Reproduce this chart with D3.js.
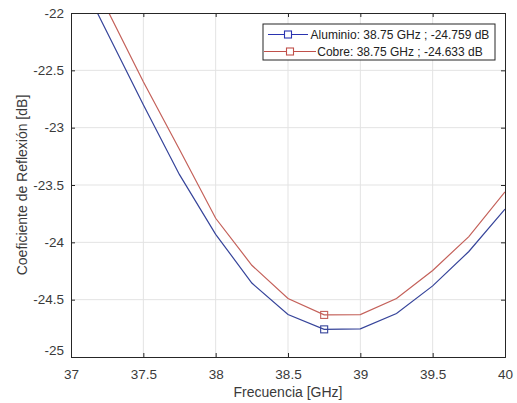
<!DOCTYPE html>
<html>
<head>
<meta charset="utf-8">
<script src="https://cdn.jsdelivr.net/npm/d3@7"></script>
<style>
  body { margin: 0; background: #fff; }
  svg { display: block; font-family: "Liberation Sans", Arial, sans-serif; }
</style>
</head>
<body>
<div id="chart"></div>
<script>
// frequency samples (GHz)
const freq = [37, 37.25, 37.5, 37.75, 38, 38.25, 38.5, 38.75, 39, 39.25, 39.5, 39.75, 40];
// reflection coefficient (dB)
const aluminio = [-21.54, -22.17, -22.80, -23.41, -23.93, -24.355, -24.63, -24.759, -24.755, -24.62, -24.38, -24.08, -23.71];
const cobre = [-21.37, -21.97, -22.60, -23.19, -23.79, -24.20, -24.49, -24.633, -24.63, -24.49, -24.245, -23.95, -23.56];
const xTicks = [37, 37.5, 38, 38.5, 39, 39.5, 40];
const yTicks = [-25, -24.5, -24, -23.5, -23, -22.5, -22];
const markerFreq = 38.75;
const legendLabels = ["Aluminio: 38.75 GHz ; -24.759 dB", "Cobre: 38.75 GHz ; -24.633 dB"];

const W = 517, H = 403;
const margin = {top: 13, right: 12, bottom: 46, left: 71};
const iw = W - margin.left - margin.right;
const ih = H - margin.top - margin.bottom;

const svg = d3.select("#chart").append("svg").attr("width", W).attr("height", H);
const g = svg.append("g").attr("transform", `translate(${margin.left},${margin.top})`);

const x = d3.scaleLinear().domain([37, 40]).range([0, iw]);
const y = d3.scaleLinear().domain([-25, -22]).range([ih, 0]);

//plain hyphen like matlab, not the unicode minus
const fmt = d => String(d);

//grid
g.append("g").selectAll("line").data(xTicks.slice(1, -1)).join("line")
    .attr("x1", d => x(d)).attr("x2", d => x(d)).attr("y1", 0).attr("y2", ih)
    .attr("stroke", "#e3e3e3").attr("stroke-width", 1);
g.append("g").selectAll("line").data(yTicks.slice(1, -1)).join("line")
    .attr("y1", d => y(d)).attr("y2", d => y(d)).attr("x1", 0).attr("x2", iw)
    .attr("stroke", "#e3e3e3").attr("stroke-width", 1);

//clip for the curves
svg.append("defs").append("clipPath").attr("id", "clip")
    .append("rect").attr("width", iw).attr("height", ih);

const line = d3.line().x((d, i) => x(freq[i])).y(d => y(d));
const series = [
    {vals: aluminio, color: "#36449a", legColor: "#2a33b0"},
    {vals: cobre, color: "#c4615a", legColor: "#c0504a"}
];

const plot = g.append("g").attr("clip-path", "url(#clip)");
series.forEach(s => {
    plot.append("path").datum(s.vals).attr("d", line)
        .attr("fill", "none").attr("stroke", s.color).attr("stroke-width", 1.2);
    let k = freq.indexOf(markerFreq);
    g.append("rect")
        .attr("x", x(markerFreq) - 3.5).attr("y", y(s.vals[k]) - 3.5)
        .attr("width", 7).attr("height", 7)
        .attr("fill", "none").attr("stroke", s.color).attr("stroke-width", 1.1);
});

//axes (box with inward ticks)
const axColor = "#262626";
const xAxis = d3.axisBottom(x).tickValues(xTicks).tickSize(-4).tickPadding(10).tickFormat(fmt);
const yAxis = d3.axisLeft(y).tickValues(yTicks).tickSize(-4).tickPadding(7).tickFormat(fmt);

let ax = g.append("g").attr("transform", `translate(0,${ih})`).call(xAxis);
let ay = g.append("g").call(yAxis);
g.append("g").call(d3.axisTop(x).tickValues(xTicks).tickSize(-4).tickFormat(""));
g.append("g").attr("transform", `translate(${iw},0)`).call(d3.axisRight(y).tickValues(yTicks).tickSize(-4).tickFormat(""));

g.selectAll(".domain").attr("stroke", axColor);
g.selectAll(".tick line").attr("stroke", axColor);
[ax, ay].forEach(a => a.selectAll("text").attr("fill", "#3a3a3a").style("font-size", "13.5px"));
ax.selectAll("text").attr("dy", "0.9em");
//the -25 label sits a bit higher so it does not hit the 37 label
ay.selectAll(".tick").filter(d => d === -25).select("text").attr("dy", "-0.2em");

//axis titles
svg.append("text").attr("x", margin.left + iw / 2).attr("y", 397)
    .attr("text-anchor", "middle").attr("fill", "#3a3a3a").style("font-size", "14px")
    .text("Frecuencia [GHz]");
svg.append("text").attr("transform", `translate(27,${margin.top + ih / 2}) rotate(-90)`)
    .attr("text-anchor", "middle").attr("fill", "#3a3a3a").style("font-size", "14px")
    .text("Coeficiente de Reflexión [dB]");

//legend
const leg = svg.append("g");
leg.append("rect").attr("x", 263).attr("y", 24).attr("width", 232).attr("height", 36)
    .attr("fill", "#fff").attr("stroke", axColor).attr("stroke-width", 1);
const rowsY = [34.5, 51.5];
const lineSpan = [[268, 308], [264, 316]];
series.forEach((s, i) => {
    let ly = rowsY[i];
    leg.append("line").attr("x1", lineSpan[i][0]).attr("x2", lineSpan[i][1])
        .attr("y1", ly).attr("y2", ly).attr("stroke", s.legColor).attr("stroke-width", 1.2);
    let mx = (lineSpan[i][0] + lineSpan[i][1]) / 2;
    leg.append("rect").attr("x", mx - 3.5).attr("y", ly - 3.5).attr("width", 7).attr("height", 7)
        .attr("fill", "#fff").attr("stroke", s.legColor).attr("stroke-width", 1.1);
    leg.append("text").attr("x", 400).attr("y", ly).attr("dy", "0.35em")
        .attr("text-anchor", "middle").attr("fill", "#222").style("font-size", "12px")
        .text(legendLabels[i]);
});
</script>
</body>
</html>
